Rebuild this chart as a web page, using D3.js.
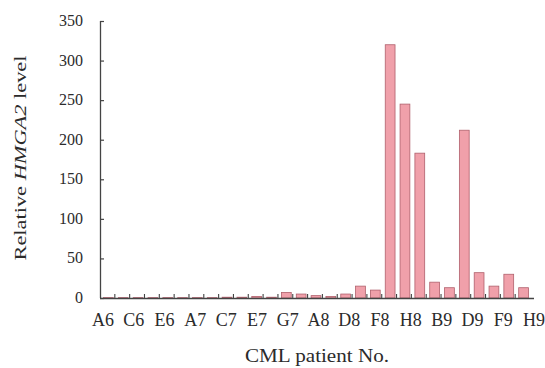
<!DOCTYPE html>
<html>
<head>
<meta charset="utf-8">
<script src="https://cdn.jsdelivr.net/npm/d3@7"></script>
<style>
  body { margin: 0; background: #fff; }
  svg { display: block; font-family: "Liberation Serif", "DejaVu Serif", serif; }
</style>
</head>
<body>
<div id="chart"></div>
<script>
// patients (every other one is labelled on the axis)
const patients = ['A6','B6','C6','D6','E6','F6','A7','B7','C7','D7','E7','F7','G7','H7',
  'A8','C8','D8','E8','F8','G8','H8','A9','B9','C9','D9','E9','F9','G9','H9'];
const levels = [0.5,0.5,0.5,0.5,0.5,0.5,0.5,0.5,1,1,2,1,7,5,
  3,2,5,15,10,320,245,183,20,13,212,32,15,30,13];
const yTicks = [0, 50, 100, 150, 200, 250, 300, 350];
const shownLabels = patients.filter((d, i) => i % 2 === 0);

const width = 545, height = 368;
const margin = {top: 21, right: 16, bottom: 70, left: 100};

const svg = d3.select('#chart')
  .append('svg')
  .attr('width', width)
  .attr('height', height);

const x = d3.scaleBand()
  .domain(patients)
  .range([margin.left, 530])
  .paddingInner(0.34)
  .paddingOuter(0.17);

// the printed labels are spread a little wider than the bars
const xLabel = d3.scalePoint()
  .domain(shownLabels)
  .range([103, 534]);

const y = d3.scaleLinear()
  .domain([0, 350])
  .range([height - margin.bottom, margin.top]);

const axisColor = '#444';
const textColor = '#2b2b2b';

// bars
svg.selectAll('rect.bar')
  .data(levels)
  .join('rect')
    .attr('class', 'bar')
    .attr('x', (d, i) => x(patients[i]) + 1)
    .attr('y', d => y(d))
    .attr('width', x.bandwidth())
    .attr('height', d => y(0) - y(d))
    .attr('fill', '#f0a0aa')
    .attr('stroke', '#b0606c')
    .attr('stroke-width', 0.8);

// y axis
const yAxis = svg.append('g')
  .attr('transform', `translate(${margin.left},0)`)
  .call(d3.axisRight(y).tickValues(yTicks).tickSize(4).tickFormat(''));
yAxis.select('.domain').attr('stroke', axisColor).attr('stroke-width', 1.3)
  .attr('d', `M0.5,${y(350)}V${y(0)}`);
yAxis.selectAll('.tick line').attr('stroke', axisColor).attr('stroke-width', 1.2);

svg.append('g')
  .selectAll('text')
  .data(yTicks)
  .join('text')
    .attr('x', 83)
    .attr('y', d => y(d) + 5)
    .attr('text-anchor', 'end')
    .attr('font-size', 16)
    .attr('fill', textColor)
    .text(d => d);

// x axis: baseline and small upward ticks between patients
const step = x.step();
const xAxisG = svg.append('g');
xAxisG.append('line')
  .attr('x1', margin.left).attr('x2', 534)
  .attr('y1', y(0) + 0.5).attr('y2', y(0) + 0.5)
  .attr('stroke', axisColor).attr('stroke-width', 1.3);
xAxisG.selectAll('line.tick')
  .data(patients.slice(1))
  .join('line')
    .attr('class', 'tick')
    .attr('x1', d => x(d) - step * x.paddingInner() / 2)
    .attr('x2', d => x(d) - step * x.paddingInner() / 2)
    .attr('y1', y(0))
    .attr('y2', y(0) - 4)
    .attr('stroke', axisColor)
    .attr('stroke-width', 1.1);

xAxisG.selectAll('text')
  .data(shownLabels)
  .join('text')
    .attr('x', d => xLabel(d))
    .attr('y', 326)
    .attr('text-anchor', 'middle')
    .attr('font-size', 18)
    .attr('fill', textColor)
    .text(d => d);

// axis titles
svg.append('text')
  .attr('x', 317)
  .attr('y', 362)
  .attr('text-anchor', 'middle')
  .attr('font-size', 18)
  .attr('textLength', 144)
  .attr('lengthAdjust', 'spacingAndGlyphs')
  .attr('fill', textColor)
  .text('CML patient No.');

const yTitle = svg.append('text')
  .attr('transform', 'translate(26,158) rotate(-90)')
  .attr('text-anchor', 'middle')
  .attr('font-size', 16)
  .attr('textLength', 205)
  .attr('lengthAdjust', 'spacingAndGlyphs')
  .attr('fill', textColor);
yTitle.append('tspan').text('Relative ');
yTitle.append('tspan').attr('font-style', 'italic').text('HMGA2');
yTitle.append('tspan').text(' level');
</script>
</body>
</html>
